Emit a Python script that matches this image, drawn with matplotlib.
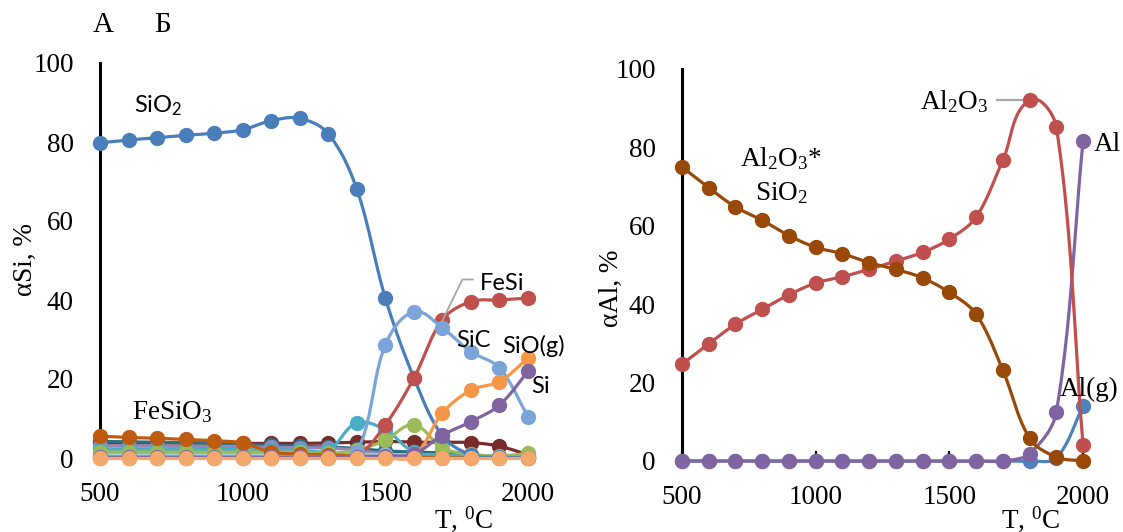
import numpy as np
import matplotlib
matplotlib.use("Agg")
import matplotlib.pyplot as plt

plt.rcParams['mathtext.default'] = 'regular'

# ---------------- data ----------------
T = [500, 600, 700, 800, 900, 1000, 1100, 1200, 1300, 1400, 1500, 1600, 1700, 1800, 1900, 2000]

# Panel A (alpha Si, %)
si_dark_red = [3.8, 3.8, 3.8, 3.8, 3.8, 3.7, 3.7, 3.7, 3.8, 4.0, 4.2, 4.0, 4.0, 3.9, 3.0, 0.8]
si_teal = [4.2, 4.1, 4.0, 3.9, 3.8, 3.5, 3.2, 3.0, 2.8, 2.4, 1.8, 1.5, 1.3, 0.8, 0.3, 0.2]
si_violet = [3.0, 3.0, 3.0, 2.9, 2.9, 2.8, 2.7, 2.6, 2.5, 2.0, 1.0, 0.6, 0.4, 0.2, 0.1, 0.1]
si_cyan = [2.2, 2.2, 2.2, 2.2, 2.2, 2.1, 2.0, 2.0, 2.0, 8.9, 7.1, 1.5, 0.8, 0.5, 0.3, 0.2]
si_lightblue = [1.2, 1.2, 1.2, 1.2, 1.2, 1.2, 1.2, 1.2, 1.2, 1.0, 0.8, 0.6, 0.5, 0.4, 0.3, 0.3]
si_green = [1.5, 1.5, 1.5, 1.5, 1.5, 1.5, 1.5, 1.5, 1.2, 2.0, 4.5, 8.4, 2.5, 1.0, 0.5, 1.2]
si_FeSiO3 = [5.5, 5.2, 5.0, 4.7, 4.4, 3.8, 1.5, 1.0, 0.8, 0.5, 0.3, 0.2, 0.1, 0.0, 0.0, 0.0]
si_SiO2 = [79.8, 80.5, 81.1, 81.7, 82.2, 83.1, 85.4, 86.0, 82.1, 68.1, 40.5, 20.3, 5.6, 0.8, 0.2, 0.1]
si_FeSi = [0.0, 0.0, 0.0, 0.0, 0.0, 0.0, 0.0, 0.0, 0.1, 0.5, 8.4, 20.2, 35.0, 39.6, 40.0, 40.5]
si_SiC = [0.3, 0.3, 0.3, 0.3, 0.3, 0.3, 0.3, 0.3, 0.3, 1.5, 28.6, 37.0, 32.9, 26.9, 22.8, 10.5]
si_SiOg = [0.0, 0.0, 0.0, 0.0, 0.0, 0.0, 0.0, 0.0, 0.0, 0.0, 0.0, 0.5, 11.4, 17.2, 19.3, 25.3]
si_Si = [0.2, 0.2, 0.2, 0.2, 0.2, 0.2, 0.2, 0.2, 0.2, 0.3, 0.5, 1.0, 5.8, 9.2, 13.4, 21.9]
si_peach = [0.0] * 16

# Panel B (alpha Al, %)
al_Alg = [0, 0, 0, 0, 0, 0, 0, 0, 0, 0, 0, 0, 0, 0, 0.8, 14.0]
al_Al = [0, 0, 0, 0, 0, 0, 0, 0, 0, 0, 0, 0, 0, 1.9, 12.4, 81.6]
al_Al2O3 = [24.7, 29.9, 34.9, 38.7, 42.4, 45.4, 47.0, 48.9, 51.0, 53.2, 56.6, 62.2, 76.7, 92.0, 85.3, 4.2]
al_Al2O3SiO2 = [75.0, 69.7, 64.8, 61.4, 57.5, 54.5, 52.9, 50.6, 48.9, 46.7, 43.0, 37.5, 23.2, 5.8, 1.0, 0.0]

x_ticks = [500, 1000, 1500, 2000]
y_ticks = [0, 20, 40, 60, 80, 100]

SERIF = 'Liberation Serif'
SANS = 'Lato'

W, H = 1123, 532
fig = plt.figure(figsize=(W / 100, H / 100), dpi=100)


def px_axes(l, r, top, bot):
    return fig.add_axes([l / W, 1 - bot / H, (r - l) / W, (bot - top) / H])


axA = px_axes(100, 528, 63, 458)
axB = px_axes(682, 1083, 69, 461)


def smooth(x, y, ax, n=24):
    """Excel-like smoothed line (chord-length Bezier) computed in pixel space."""
    x = np.asarray(x, float)
    y = np.asarray(y, float)
    bb = ax.get_position()
    sx = bb.width * W / 1500.0
    sy = bb.height * H / 100.0
    P = np.column_stack([(x - 500) * sx, y * sy])
    m = len(P)
    tang = np.zeros_like(P)
    for i in range(m):
        a = P[i - 1] if i > 0 else P[i]
        b = P[i + 1] if i + 1 < m else P[i]
        d = b - a
        nd = np.hypot(*d)
        tang[i] = d / nd if nd > 0 else 0
    out = []
    t = np.linspace(0, 1, n)[:, None]
    for i in range(m - 1):
        L = np.hypot(*(P[i + 1] - P[i]))
        c1 = P[i] + tang[i] * L / 3.0
        c2 = P[i + 1] - tang[i + 1] * L / 3.0
        seg = ((1 - t) ** 3) * P[i] + 3 * ((1 - t) ** 2) * t * c1 + 3 * (1 - t) * t ** 2 * c2 + t ** 3 * P[i + 1]
        out.append(seg if i == 0 else seg[1:])
    out = np.vstack(out)
    return out[:, 0] / sx + 500, out[:, 1] / sy


def series(ax, y, color, z):
    xs, ys = smooth(T, y, ax)
    ax.plot(xs, ys, color=color, lw=2.3, zorder=z, solid_capstyle='round', clip_on=False)
    ax.plot(T, y, 'o', color=color, ms=10, mec=color, zorder=z + 0.5, clip_on=False)


for ax in (axA, axB):
    ax.set_xlim(500, 2000)
    ax.set_ylim(0, 100)
    ax.set_xticks(x_ticks)
    ax.set_yticks(y_ticks)
    for s in ('top', 'right', 'bottom'):
        ax.spines[s].set_visible(False)
    ax.spines['left'].set_linewidth(2.2)
    ax.spines['left'].set_color('black')
    ax.tick_params(axis='y', length=0, pad=19)
    ax.tick_params(axis='x', direction='in', length=7, width=1.6, pad=17)
    ax.set_yticks([100], minor=True)
    ax.tick_params(axis='y', which='minor', direction='in', length=8, width=2.2)
    for lab in ax.get_xticklabels() + ax.get_yticklabels():
        lab.set_family(SERIF)
        lab.set_fontsize(19.5)
    ax.patch.set_alpha(0)

# ---- Panel A ----
seriesA = [
    (si_dark_red, '#772C2A'),
    (si_teal, '#2E6F80'),
    (si_violet, '#9585BD'),
    (si_lightblue, '#93CDDD'),
    (si_cyan, '#4BACC6'),
    (si_green, '#9BBB59'),
    (si_FeSiO3, '#BE5B0E'),
    (si_SiO2, '#4A7EBB'),
    (si_FeSi, '#C0504D'),
    (si_SiC, '#7BA4D8'),
    (si_SiOg, '#F79646'),
    (si_Si, '#8064A2'),
    (si_peach, '#F5A86C'),
]
for k, (vals, col) in enumerate(seriesA):
    series(axA, vals, col, 3 + k)

axA.text(620, 87.6, 'SiO$_2$', family=SANS, fontsize=17, va='baseline', ha='left')
axA.text(612, 9.9, 'FeSiO$_3$', family=SERIF, fontsize=19.5, va='baseline', ha='left')
axA.text(1832, 42.5, 'FeSi', family=SANS, fontsize=17, va='baseline', ha='left')
axA.plot([1807, 1770, 1700], [45.2, 45.2, 34.8], color='#A6A6A6', lw=1.3, zorder=40, clip_on=False)
axA.text(1750, 28.2, 'SiC', family=SANS, fontsize=17, va='baseline', ha='left', zorder=50)
axA.text(1908, 26.5, 'SiO(g)', family=SANS, fontsize=17, va='baseline', ha='left', zorder=50)
axA.text(2013, 16.4, 'Si', family=SANS, fontsize=17, va='baseline', ha='left', zorder=50)

# ---- Panel B ----
seriesB = [
    (al_Alg, '#4F81BD'),
    (al_Al, '#8064A2'),
    (al_Al2O3, '#C0504D'),
    (al_Al2O3SiO2, '#984807'),
]
for k, (vals, col) in enumerate(seriesB):
    series(axB, vals, col, 3 + k)

axB.text(871, 75.2, 'Al$_2$O$_3$*', family=SERIF, fontsize=19.5, va='baseline', ha='center')
axB.text(873, 66.6, 'SiO$_2$', family=SERIF, fontsize=19.5, va='baseline', ha='center')
axB.text(1645, 89.8, 'Al$_2$O$_3$', family=SERIF, fontsize=19.5, va='baseline', ha='right')
axB.plot([1678, 1790], [92, 92], color='#A6A6A6', lw=1.6, zorder=2, clip_on=False)
axB.text(2040, 79.0, 'Al', family=SERIF, fontsize=19.5, va='baseline', ha='left')
axB.text(1913, 16.6, 'Al(g)', family=SERIF, fontsize=19.5, va='baseline', ha='left', zorder=50)

# ---- figure-level texts ----
def ftext(x, y, s, **kw):
    fig.text(x / W, 1 - y / H, s, **kw)


ftext(103, 25, 'А', family=SERIF, fontsize=21, ha='center', va='center')
ftext(163, 25, 'Б', family=SERIF, fontsize=21, ha='center', va='center')
ftext(25, 260, 'αSi, %', family=SERIF, fontsize=19.5, rotation=90, ha='center', va='center')
ftext(611, 288, 'αAl, %', family=SERIF, fontsize=19.5, rotation=90, ha='center', va='center')
ftext(464, 504, 'T, $^0$C', family=SERIF, fontsize=19.5, ha='center', va='top')
ftext(1031, 504, 'T, $^0$C', family=SERIF, fontsize=19.5, ha='center', va='top')

fig.savefig('out.png', dpi=100)
